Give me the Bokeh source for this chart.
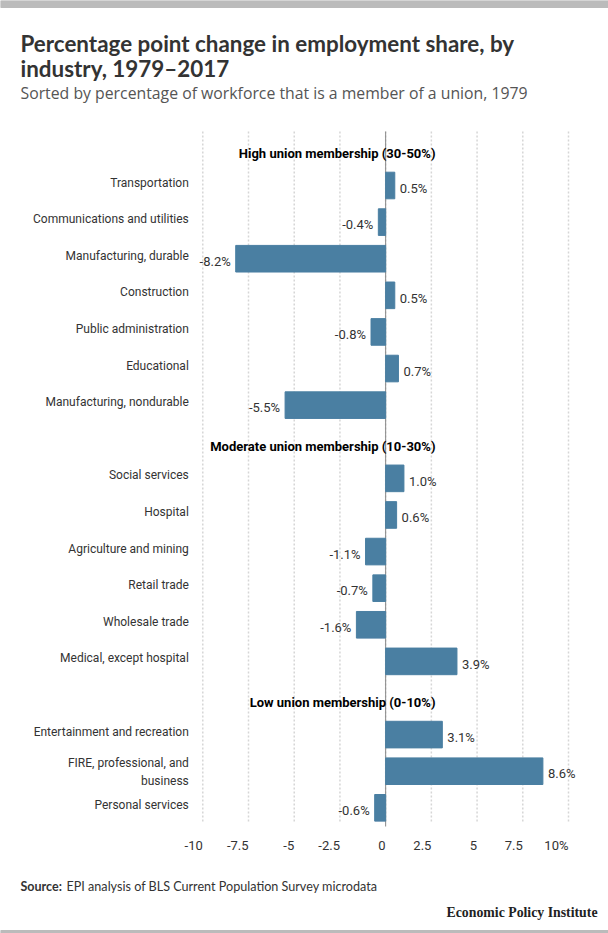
from bokeh.core.properties import value
from bokeh.embed import file_html
from bokeh.models import ColumnDataSource
from bokeh.plotting import figure
from bokeh.resources import INLINE

# data
groups = ["High union membership (30-50%)",
          "Moderate union membership (10-30%)",
          "Low union membership (0-10%)"]
high_names = ["Transportation", "Communications and utilities", "Manufacturing, durable",
              "Construction", "Public administration", "Educational",
              "Manufacturing, nondurable"]
high_values = [0.5, -0.4, -8.2, 0.5, -0.8, 0.7, -5.5]
moderate_names = ["Social services", "Hospital", "Agriculture and mining", "Retail trade",
                  "Wholesale trade", "Medical, except hospital"]
moderate_values = [1.0, 0.6, -1.1, -0.7, -1.6, 3.9]
low_names = ["Entertainment and recreation", "FIRE, professional, and\nbusiness",
             "Personal services"]
low_values = [3.1, 8.6, -0.6]
x_ticks = [-10, -7.5, -5, -2.5, 0, 2.5, 5, 7.5, 10]
x_tick_labels = ["-10", "-7.5", "-5", "-2.5", "0", "2.5", "5", "7.5", "10%"]

# page geometry (pixels) -> the plot frame covers the whole canvas
W, H = 608, 933
X0, XS = 385.15, 18.285     # pixel of x=0, pixels per percentage point
Y0, YS = 148.4, 36.606      # pixel of row 0, pixels per row


def px_x(px):
    return (px - X0) / XS


def px_y(py):
    return (py - Y0) / YS


# one row per header, one per industry
header_rows = []
bar_rows, bar_names, bar_values = [], [], []
row = 0
for g, names, vals in zip(groups, [high_names, moderate_names, low_names],
                          [high_values, moderate_values, low_values]):
    header_rows.append(row)
    row += 1
    for n, v in zip(names, vals):
        bar_rows.append(row)
        bar_names.append(n)
        bar_values.append(v)
        row += 1

BAR = "#4a7fa2"
TXT = "#333333"
FONT = "Roboto"
HEAD_FONT = "Lato"

bars = ColumnDataSource(data=dict(
    y=bar_rows, v=bar_values, name=bar_names,
    name_off=[1 if "\n" in n else -3 for n in bar_names],
    label=[f"{v:.1f}%" for v in bar_values],
    align=["left" if v >= 0 else "right" for v in bar_values],
    off=[5 if v >= 0 else -5 for v in bar_values],
))
heads = ColumnDataSource(data=dict(y=header_rows, text=groups))

p = figure(width=W, height=H, output_backend="svg", toolbar_location=None,
           x_range=(px_x(0), px_x(W)), y_range=(px_y(H), px_y(0)),
           x_axis_location=None, y_axis_location=None, min_border=0)
p.outline_line_color = None
p.grid.visible = False

grid_top, grid_bottom = px_y(131), px_y(823)

# dotted grid and zero line
p.segment(x0=x_ticks, x1=x_ticks, y0=grid_top, y1=grid_bottom,
          line_color="#d6d6d6", line_dash="2 2", line_width=1.5)
p.segment(x0=[0], x1=[0], y0=grid_top, y1=px_y(826), line_color="#888888", line_width=1)

p.hbar(y="y", left=0, right="v", height=0.727, source=bars, color=BAR)

# value labels
p.text(x="v", y="y", text="label", source=bars, x_offset="off", y_offset=2.7,
       text_align="align", text_baseline="middle", text_font=value(FONT),
       text_font_size="13px", text_color=TXT)
# category labels
p.text(x=x_ticks[0], y="y", text="name", source=bars, x_offset=-14, y_offset="name_off",
       text_align="right", text_baseline="middle", text_font=value(FONT),
       text_font_size="12px", text_color=TXT, text_line_height=1.3)
# group headers
p.text(x=px_x(435), y="y", text="text", source=heads, y_offset=4.6,
       text_align="right", text_baseline="middle", text_font=value(FONT),
       text_font_size="13px", text_font_style="bold", text_color="black")
# x tick labels
p.text(x=x_ticks, y=px_y(845), text=x_tick_labels, text_align="right",
       text_baseline="middle", text_font=value(FONT), text_font_size="13px",
       text_color=TXT)

# title, subtitle, source, credit
p.text(x=px_x(20), y=[px_y(43), px_y(68)],
       text=["Percentage point change in employment share, by", "industry, 1979\u20132017"],
       text_baseline="middle", text_font=value(HEAD_FONT), text_font_size="22.4px",
       text_font_style="bold", text_color=TXT)
p.text(x=px_x(20), y=px_y(92),
       text=["Sorted by percentage of workforce that is a member of a union, 1979"],
       text_baseline="middle", text_font=value("Open Sans"), text_font_size="15.8px",
       text_color="#555555")
p.text(x=px_x(20), y=px_y(886), text=["Source:"], text_baseline="middle",
       text_font=value(HEAD_FONT), text_font_size="12.5px", text_font_style="bold",
       text_color=TXT)
p.text(x=px_x(66), y=px_y(886),
       text=["EPI analysis of BLS Current Population Survey microdata"],
       text_baseline="middle", text_font=value(HEAD_FONT), text_font_size="12.6px",
       text_color=TXT)
p.text(x=px_x(597), y=px_y(912), text=["Economic Policy Institute"],
       text_align="right", text_baseline="middle", text_font=value("Liberation Serif"),
       text_font_size="13.8px", text_font_style="bold", text_color="#222222")

# grey rules at top and bottom of the page
p.quad(left=px_x(0), right=px_x(W), top=[px_y(0), px_y(930)], bottom=[px_y(7), px_y(H)],
       color="#bbbbbb")

open("out.html", "w").write(file_html(p, INLINE))
